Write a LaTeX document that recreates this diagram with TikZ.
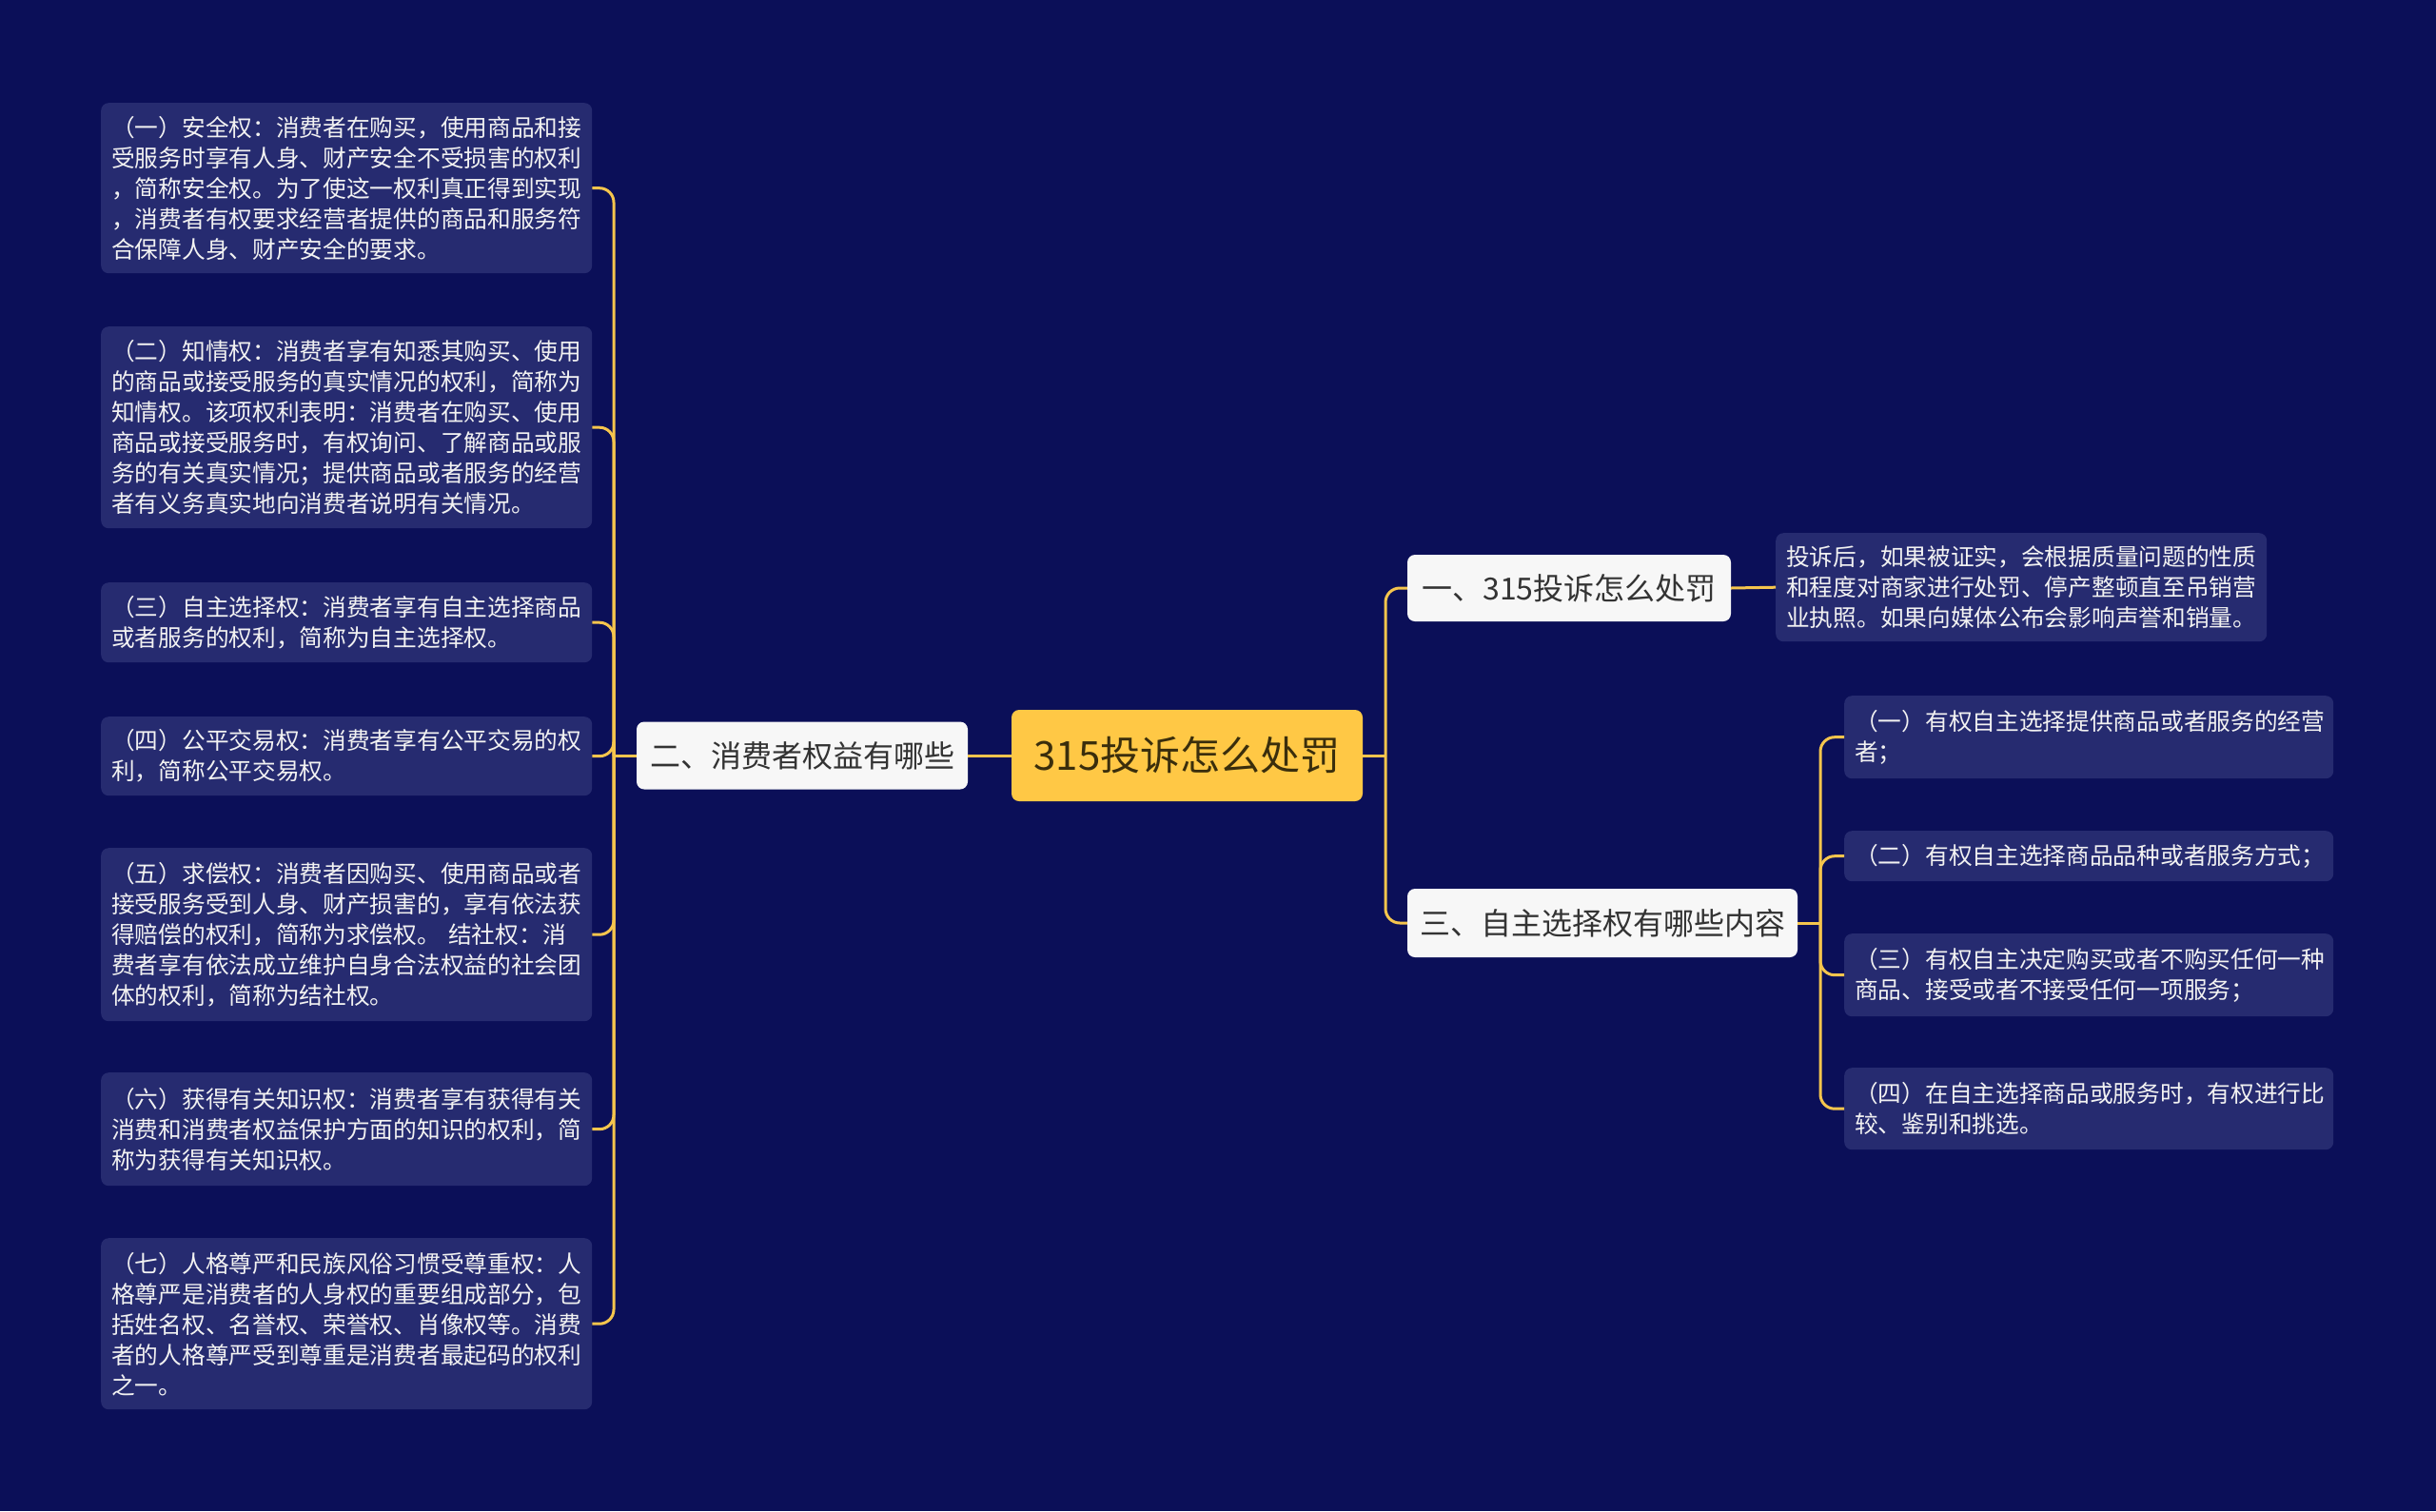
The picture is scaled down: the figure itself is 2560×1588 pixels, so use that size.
\documentclass[tikz,border=0pt]{standalone}
\usepackage{fontspec}
\setmainfont{Noto Sans CJK SC}
\definecolor{bg}{HTML}{0B0F58}
\definecolor{boxfill}{HTML}{262B70}
\definecolor{linec}{HTML}{F5C54D}
\definecolor{rootfill}{HTML}{FFC845}
\definecolor{roottext}{HTML}{3A2E0C}
\definecolor{whitebox}{HTML}{F7F7F7}
\definecolor{darktext}{HTML}{333333}
\tikzset{
  leafbox/.style={fill=boxfill, rounded corners=8pt, text=white!95!black, align=left,
    text width=494pt, inner xsep=11pt, inner ysep=4pt, anchor=north west,
    font=\fontsize{24.7}{32}\selectfont},
  topicbox/.style={fill=whitebox, rounded corners=8pt, text=darktext, align=center,
    inner sep=0pt, font=\fontsize{32}{38}\selectfont},
  rootbox/.style={fill=rootfill, rounded corners=8pt, text=roottext, align=center,
    inner sep=0pt, font=\fontsize{42}{48}\selectfont},
  conn/.style={draw=linec, line width=3pt},
  elbowline/.style={conn, rounded corners=15pt}
}
\begin{document}
\begin{tikzpicture}[x=1pt,y=-1pt]
\fill[bg] (0,0) rectangle (2560,1588);
\useasboundingbox (0,0) rectangle (2560,1588);

% central nodes
\node[rootbox, minimum width=369pt, minimum height=96pt] (root) at (1247.5,794) {315投诉怎么处罚};
\node[topicbox, minimum width=348pt, minimum height=71pt] (two) at (843,794) {二、消费者权益有哪些};
\node[topicbox, minimum width=340pt, minimum height=70pt] (one) at (1649,618) {一、315投诉怎么处罚};
\node[topicbox, minimum width=410pt, minimum height=72pt] (three) at (1684,970) {三、自主选择权有哪些内容};

% left leaves
\node[leafbox, minimum height=179pt] (l1) at (106,108) {（一）安全权：消费者在购买，使用商品和接\\受服务时享有人身、财产安全不受损害的权利\\，简称安全权。为了使这一权利真正得到实现\\，消费者有权要求经营者提供的商品和服务符\\合保障人身、财产安全的要求。};
\node[leafbox, minimum height=212pt] (l2) at (106,343) {（二）知情权：消费者享有知悉其购买、使用\\的商品或接受服务的真实情况的权利，简称为\\知情权。该项权利表明：消费者在购买、使用\\商品或接受服务时，有权询问、了解商品或服\\务的有关真实情况；提供商品或者服务的经营\\者有义务真实地向消费者说明有关情况。};
\node[leafbox, minimum height=84pt] (l3) at (106,612) {（三）自主选择权：消费者享有自主选择商品\\或者服务的权利，简称为自主选择权。};
\node[leafbox, minimum height=83pt] (l4) at (106,753) {（四）公平交易权：消费者享有公平交易的权\\利，简称公平交易权。};
\node[leafbox, minimum height=182pt] (l5) at (106,891) {（五）求偿权：消费者因购买、使用商品或者\\接受服务受到人身、财产损害的，享有依法获\\得赔偿的权利，简称为求偿权。 结社权：消\\费者享有依法成立维护自身合法权益的社会团\\体的权利，简称为结社权。};
\node[leafbox, minimum height=119pt] (l6) at (106,1127) {（六）获得有关知识权：消费者享有获得有关\\消费和消费者权益保护方面的知识的权利，简\\称为获得有关知识权。};
\node[leafbox, minimum height=180pt] (l7) at (106,1301) {（七）人格尊严和民族风俗习惯受尊重权：人\\格尊严是消费者的人身权的重要组成部分，包\\括姓名权、名誉权、荣誉权、肖像权等。消费\\者的人格尊严受到尊重是消费者最起码的权利\\之一。};

% right leaves
\node[leafbox, minimum height=114pt] (r1) at (1866,560) {投诉后，如果被证实，会根据质量问题的性质\\和程度对商家进行处罚、停产整顿直至吊销营\\业执照。如果向媒体公布会影响声誉和销量。};
\node[leafbox, text width=492pt, minimum height=87pt] (s1) at (1938,731) {（一）有权自主选择提供商品或者服务的经营\\者；};
\node[leafbox, text width=492pt, minimum height=53pt] (s2) at (1938,873) {（二）有权自主选择商品品种或者服务方式；};
\node[leafbox, text width=492pt, minimum height=87pt] (s3) at (1938,981) {（三）有权自主决定购买或者不购买任何一种\\商品、接受或者不接受任何一项服务；};
\node[leafbox, text width=492pt, minimum height=86pt] (s4) at (1938,1122) {（四）在自主选择商品或服务时，有权进行比\\较、鉴别和挑选。};

% buses
\coordinate (lbus) at (645,794);
\coordinate (rbus) at (1456,794);
\coordinate (sbus) at (1913,970);

\draw[conn] (root.west) -- (two.east);
\draw[conn] (two.west) -- (lbus);
\foreach \n in {l1,l2,l3,l4,l5,l6,l7} {
  \draw[elbowline] (lbus) |- (\n.east);
}
\draw[conn] (root.east) -- (rbus);
\draw[elbowline] (rbus) |- (one.west);
\draw[elbowline] (rbus) |- (three.west);
\draw[conn] (one.east) -- (r1.west);
\draw[conn] (three.east) -- (sbus);
\foreach \n in {s1,s2,s3,s4} {
  \draw[elbowline] (sbus) |- (\n.west);
}
\end{tikzpicture}
\end{document}
